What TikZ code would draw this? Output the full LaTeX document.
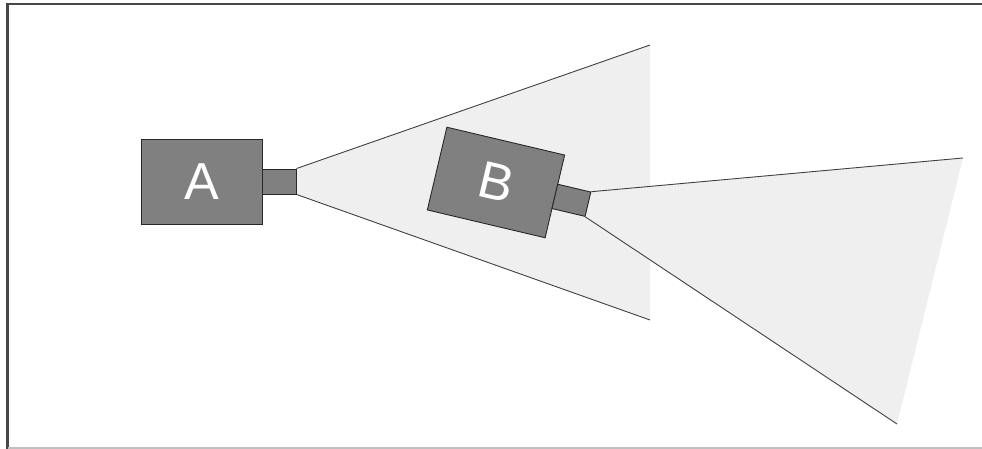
\documentclass[tikz,border=0pt]{standalone}
\usepackage{fontspec}
\setmainfont{Liberation Sans}
\usetikzlibrary{backgrounds}
\definecolor{conegray}{RGB}{239,239,239}
\definecolor{bodygray}{RGB}{128,128,128}
\definecolor{edgegray}{RGB}{40,40,40}
\begin{document}
\begin{tikzpicture}[x=1pt,y=-1pt,
  body/.style={draw=edgegray, fill=bodygray, line width=0.9pt, minimum width=121pt, minimum height=85pt, inner sep=0pt, text=white, font=\fontsize{52}{52}\selectfont},
  nozzle/.style={draw=edgegray, fill=bodygray, line width=0.9pt, minimum width=34pt, minimum height=25pt, inner sep=0pt},
  conefill/.style={fill=conegray},
  coneline/.style={draw=black!75, line width=0.9pt}]
\useasboundingbox (0,0) rectangle (982,449);
% frame
\draw[line width=2.4pt, draw=black!72] (982,4) -- (7.5,4) -- (7.5,449);
\draw[line width=1.2pt, draw=black!25] (7.5,448) -- (982,448);
% cameras
\node[body] (A) at (201.5,181.5) {A};
\node[nozzle] (na) at (279,181.5) {};
\node[body, rotate=-13.3] (B) at (496,182.5) {B};
\node[nozzle, rotate=-13.3] (nb) at (571.4,200.3) {};
% cone end points
\coordinate (a1) at (650,45);
\coordinate (a2) at (650,320);
\coordinate (b1) at (963,158);
\coordinate (b2) at (897,424);
\begin{pgfonlayer}{background}
\fill[conefill] (na.north east) -- (a1) -- (a2) -- (na.south east) -- cycle;
\draw[coneline] (na.north east) -- (a1);
\draw[coneline] (na.south east) -- (a2);
\fill[conefill] (nb.north east) -- (b1) -- (b2) -- (nb.south east) -- cycle;
\draw[coneline] (nb.north east) -- (b1);
\draw[coneline] (nb.south east) -- (b2);
\end{pgfonlayer}
\end{tikzpicture}
\end{document}
